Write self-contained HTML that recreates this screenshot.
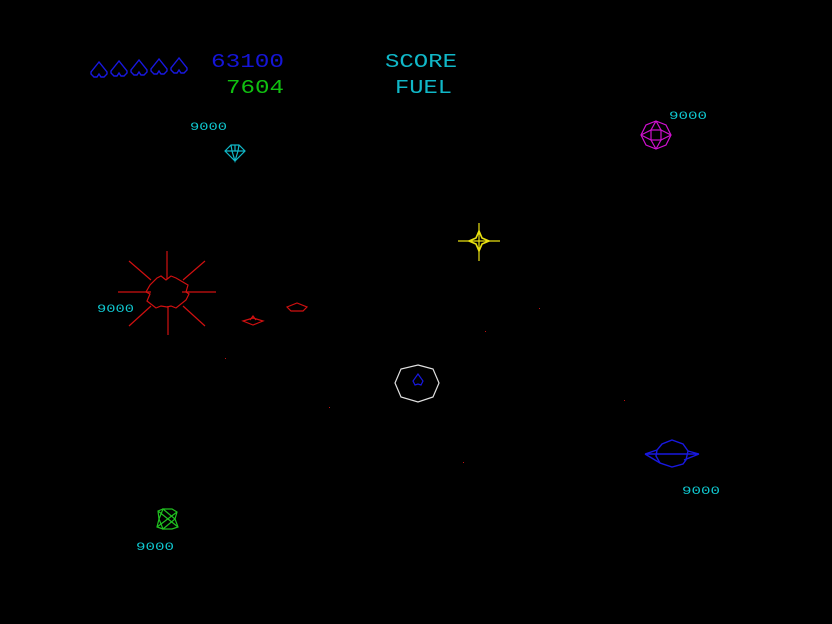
<!DOCTYPE html>
<html><head><meta charset="utf-8"><style>
html,body{margin:0;padding:0;background:#000;}
svg{display:block}
text{font-family:"Liberation Mono",monospace;}
</style></head><body>
<svg width="832" height="624" viewBox="0 0 832 624" xmlns="http://www.w3.org/2000/svg">
<rect width="832" height="624" fill="#000"/>
<defs>
<path id="ship" d="M0,-9 L-8,1 L-8,3 L-5,6 L-2,6 L0,3 L2,6 L5,6 L8,3 L8,1 Z" fill="none" stroke="#1818e0" stroke-width="1.4"/>
</defs>
<use href="#ship" x="99" y="71"/>
<use href="#ship" x="119" y="70"/>
<use href="#ship" x="139" y="69"/>
<use href="#ship" x="159" y="68"/>
<use href="#ship" x="179" y="67"/>

<g font-size="19">
<text x="211" y="67" textLength="73" lengthAdjust="spacingAndGlyphs" fill="#1515d8">63100</text>
<text x="226" y="93" textLength="58" lengthAdjust="spacingAndGlyphs" fill="#10c010">7604</text>
<text x="385" y="67" textLength="72" lengthAdjust="spacingAndGlyphs" fill="#10b8c8">SCORE</text>
<text x="395" y="93" textLength="57" lengthAdjust="spacingAndGlyphs" fill="#10b8c8">FUEL</text>
</g>
<g font-size="11" fill="#10c8d0">
<text x="190" y="130" textLength="37" lengthAdjust="spacingAndGlyphs">9000</text>
<text x="669" y="119" textLength="38" lengthAdjust="spacingAndGlyphs">9000</text>
<text x="97" y="312" textLength="37" lengthAdjust="spacingAndGlyphs">9000</text>
<text x="682" y="494" textLength="38" lengthAdjust="spacingAndGlyphs">9000</text>
<text x="136" y="550" textLength="38" lengthAdjust="spacingAndGlyphs">9000</text>
</g>

<!-- cyan diamond -->
<g stroke="#10b8c8" stroke-width="1.2" fill="none">
<path d="M225,151 L231,145 L239,145 L245,151 L235,161 Z M225,151 L245,151 M231,145 L232,151 L235,161 L238,151 L239,145 M235,145 L235,151"/>
</g>

<!-- magenta -->
<g stroke="#d010d0" stroke-width="1.2" fill="none">
<path d="M656,121 L666,125 L671,135 L666,145 L656,149 L646,145 L641,135 L646,125 Z"/>
<rect x="651" y="130" width="10" height="10"/>
<path d="M656,121 L651,130 M656,121 L661,130 M641,135 L651,130 M641,135 L651,140 M671,135 L661,130 M671,135 L661,140 M656,149 L651,140 M656,149 L661,140"/>
</g>

<!-- yellow star -->
<g stroke="#e8e010" stroke-width="1.2" fill="none">
<path d="M458,241 L500,241 M479,223 L479,261"/>
<path d="M479,231 L482,238 L489,241 L482,244 L479,251 L476,244 L469,241 L476,238 Z" stroke-width="1.6"/>
</g>

<!-- red explosion -->
<g stroke="#d01010" stroke-width="1.2" fill="none">
<path d="M157,278 L161,276 L166,280 L171,276 L176,278 L188,285 L186,292 L189,294 L186,300 L176,308 L171,306 L167,307 L161,306 L156,308 L147,301 L150,294 L146,292 L150,285 Z"/>
<path d="M167,251 L167,279 M168,306 L168,335 M118,292 L151,292 M182,292 L216,292 M129,261 L151,280 M205,261 L183,280 M129,326 L151,306 M205,326 L183,306"/>
<path d="M243,321 L253,318 L263,321 L253,325 Z M250,320 L253,316 L256,320"/>
<path d="M287,307 L297,303 L307,307 L303,311 L291,311 Z"/>
</g>
<g fill="#c01010">
<rect x="225" y="358" width="1" height="1"/><rect x="329" y="407" width="1" height="1"/>
<rect x="539" y="308" width="1" height="1"/><rect x="485" y="331" width="1" height="1"/>
<rect x="624" y="400" width="1" height="1"/><rect x="463" y="462" width="1" height="1"/>
</g>

<!-- white octagon -->
<path d="M418,365 L433,369 L439,383 L433,397 L418,402 L401,397 L395,383 L401,369 Z" fill="none" stroke="#e0e0e0" stroke-width="1.2"/>
<path d="M418,374 L413,381 L415,385 L418,384 L421,385 L423,381 Z" fill="none" stroke="#1818e0" stroke-width="1.2"/>

<!-- blue planet -->
<g stroke="#1818e0" stroke-width="1.4" fill="none">
<path d="M672,440 L683,444 L688,451 L686,460 L683,464 L672,467 L660,463 L656,456 L657,450 L662,444 Z"/>
<path d="M645,454 L699,454 M645,454 L657,450 M645,454 L660,463 M699,454 L688,451 M699,454 L684,460"/>
</g>

<!-- green -->
<g stroke="#20c020" stroke-width="1.2" fill="none">
<path d="M158,511 L163,509 L172,509 L177,512 L175,519 L178,527 L172,529 L163,529 L157,527 L159,519 Z"/>
<path d="M158,511 L178,527 M177,512 L157,527 M163,509 L175,519 L163,529 L159,519 Z" />
</g>
</svg>
</body></html>
